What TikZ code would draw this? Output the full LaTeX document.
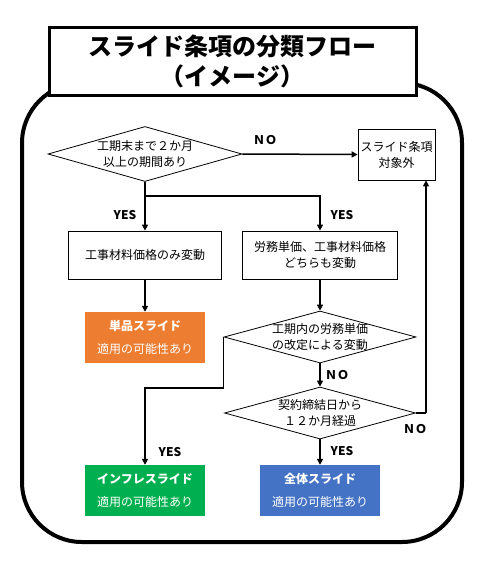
\documentclass[tikz,border=0pt]{standalone}
\usepackage{fontspec}
\setmainfont{Noto Sans CJK JP}
\usetikzlibrary{shapes.geometric,arrows.meta}
\definecolor{orng}{HTML}{ED7D31}
\definecolor{grn}{HTML}{00B050}
\definecolor{blu}{HTML}{4472C4}
\begin{document}
\begin{tikzpicture}[x=1pt,y=-1pt,
  txt/.style={font=\fontsize{12}{16}\selectfont,align=center,inner sep=0pt},
  box/.style={draw,line width=0.8pt,inner sep=0pt,txt},
  dia/.style={draw,diamond,line width=0.8pt,inner sep=0pt},
  res/.style={inner sep=0pt,minimum width=120pt,minimum height=51pt,text=white,align=center,font=\fontsize{12}{23}\selectfont},
  conn/.style={line width=1.5pt,-{Triangle[length=6pt,width=6pt]}},
  seg/.style={line width=1.5pt},
  lbl/.style={font=\fontsize{12}{14}\selectfont\bfseries,inner sep=0pt}]
\useasboundingbox (0,0) rectangle (487,573);
\fill[white] (0,0) rectangle (487,573);
% outer frame
\draw[line width=4pt,rounded corners=60pt] (22,83) rectangle (462,542);
% title
\node[draw,line width=3pt,fill=white,minimum width=367pt,minimum height=68pt,inner sep=0pt,
  font=\fontsize{24}{30}\selectfont\bfseries,align=center] (title) at (232.5,61) {スライド条項の分類フロー\\（イメージ）};
% nodes
\node[dia,minimum width=194pt,minimum height=55pt] (d1) at (145,154) {};
\node[txt] (d1t) at (d1) {工期末まで２か月\\以上の期間あり};
\node[box,minimum width=77pt,minimum height=51pt] (out) at (396.5,154.5) {スライド条項\\対象外};
\node[box,minimum width=153pt,minimum height=48pt] (b1) at (145,255) {工事材料価格のみ変動};
\node[box,minimum width=155pt,minimum height=48pt] (b2) at (320,255) {労務単価、工事材料価格\\どちらも変動};
\node[res,fill=orng] (orange) at (145,337.5) {\textbf{単品スライド}\\適用の可能性あり};
\node[dia,minimum width=192pt,minimum height=52pt] (d2) at (320,337) {};
\node[txt] (d2t) at (d2) {工期内の労務単価\\の改定による変動};
\node[dia,minimum width=191pt,minimum height=52pt] (d3) at (320,413) {};
\node[txt] (d3t) at (d3) {契約締結日から\\１２か月経過};
\node[res,fill=grn] (green) at (145,490.5) {\textbf{インフレスライド}\\適用の可能性あり};
\node[res,fill=blu] (blue) at (320,490.5) {\textbf{全体スライド}\\適用の可能性あり};
% junctions
\coordinate (j1) at (145,196);
\coordinate (j2) at (d2.west |- 0,388);
\coordinate (j3) at (426,413);
% connectors
\draw[conn] (d1.east) -- (out.west);
\draw[conn] (d1.south) -- (b1.north);
\draw[conn] (j1) -| (b2.north);
\draw[conn] (b1.south) -- (orange.north);
\draw[conn] (b2.south) -- (d2.north);
\draw[conn] (d2.south) -- (d3.north);
\draw[seg] (d2.west) -- (j2);
\draw[conn] (j2) -| (green.north);
\draw[conn] (d3.south) -- (blue.north);
\draw[seg] (d3.east) -- (j3);
\draw[conn] (j3) -- (j3 |- out.south);
% labels
\node[lbl] (no1) at (265,140) {ＮＯ};
\node[lbl] (yes1) at (125,215) {YES};
\node[lbl] (yes2) at (342,215) {YES};
\node[lbl] (no2) at (337,375) {ＮＯ};
\node[lbl] (no3) at (415,429) {ＮＯ};
\node[lbl] (yes3) at (170,452) {YES};
\node[lbl] (yes4) at (342,451) {YES};
\end{tikzpicture}
\end{document}
